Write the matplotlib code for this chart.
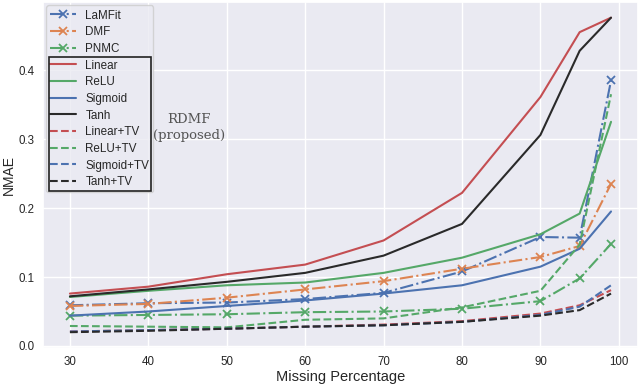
import numpy as np
import matplotlib
matplotlib.use('Agg')
import matplotlib.pyplot as plt
import seaborn as sns
from matplotlib.patches import Rectangle

sns.set_theme(style='darkgrid')
plt.rcParams['font.family'] = ['Liberation Sans', 'DejaVu Sans']

missing = [30, 40, 50, 60, 70, 80, 90, 95, 99]

# baselines
lamfit = [0.059, 0.062, 0.063, 0.068, 0.077, 0.108, 0.158, 0.157, 0.385]
dmf = [0.058, 0.061, 0.070, 0.082, 0.094, 0.112, 0.129, 0.145, 0.235]
pnmc = [0.044, 0.045, 0.046, 0.049, 0.050, 0.054, 0.065, 0.098, 0.148]

# RDMF variants
linear = [0.076, 0.086, 0.104, 0.118, 0.153, 0.222, 0.361, 0.455, 0.476]
relu = [0.071, 0.080, 0.088, 0.092, 0.106, 0.128, 0.162, 0.192, 0.325]
sigmoid = [0.044, 0.050, 0.058, 0.066, 0.076, 0.088, 0.115, 0.141, 0.195]
tanh = [0.072, 0.082, 0.093, 0.106, 0.131, 0.177, 0.306, 0.428, 0.476]
linear_tv = [0.021, 0.023, 0.025, 0.028, 0.031, 0.036, 0.047, 0.059, 0.081]
relu_tv = [0.029, 0.028, 0.027, 0.038, 0.040, 0.056, 0.080, 0.147, 0.365]
sigmoid_tv = [0.021, 0.023, 0.025, 0.028, 0.030, 0.035, 0.045, 0.057, 0.088]
tanh_tv = [0.020, 0.022, 0.025, 0.028, 0.030, 0.035, 0.044, 0.052, 0.076]

blue, orange, green, red = '#4C72B0', '#DD8452', '#55A868', '#C44E52'
black = '#2a2a2a'

fig = plt.figure(figsize=(6.4, 3.87), dpi=100)
ax = fig.add_axes([0.067, 0.101, 0.93, 0.894])

mk = dict(marker='x', markersize=5.5, markeredgewidth=1.3, linestyle='-.', linewidth=1.5)
ax.plot(missing, lamfit, color=blue, label='LaMFit', **mk)
ax.plot(missing, dmf, color=orange, label='DMF', **mk)
ax.plot(missing, pnmc, color=green, label='PNMC', **mk)

ax.plot(missing, linear, color=red, lw=1.5, label='Linear')
ax.plot(missing, relu, color=green, lw=1.5, label='ReLU')
ax.plot(missing, sigmoid, color=blue, lw=1.5, label='Sigmoid')
ax.plot(missing, tanh, color=black, lw=1.5, label='Tanh')
ax.plot(missing, linear_tv, color=red, lw=1.5, ls='--', label='Linear+TV')
ax.plot(missing, relu_tv, color=green, lw=1.5, ls='--', label='ReLU+TV')
ax.plot(missing, sigmoid_tv, color=blue, lw=1.5, ls='--', label='Sigmoid+TV')
ax.plot(missing, tanh_tv, color=black, lw=1.5, ls='--', label='Tanh+TV')

ax.set_xticks([30, 40, 50, 60, 70, 80, 90, 100])
ax.set_yticks([0.0, 0.1, 0.2, 0.3, 0.4])
ax.tick_params(labelsize=8.3, length=0, pad=6)
ax.set_xlabel('Missing Percentage', fontsize=10.5, labelpad=1)
ax.set_ylabel('NMAE', fontsize=10, labelpad=2)

leg = ax.legend(loc='upper left', fontsize=8.4, labelspacing=0.4,
                borderaxespad=0.3, handlelength=2.2, borderpad=0.35)

# black box around the proposed RDMF entries
fig.canvas.draw()
r = fig.canvas.get_renderer()
frame = leg.get_frame().get_window_extent(r)
t_top = leg.get_texts()[3].get_window_extent(r)
t_bot = leg.get_texts()[-1].get_window_extent(r)
inv = fig.transFigure.inverted()
x0, y0 = inv.transform((frame.x0 + 3, t_bot.y0 - 3))
x1, y1 = inv.transform((frame.x1 - 2, t_top.y1 + 3))
fig.patches.append(Rectangle((x0, y0), x1 - x0, y1 - y0, transform=fig.transFigure,
                             fill=False, edgecolor='#222222', linewidth=1.2, zorder=10))
xt, yt = inv.transform((frame.x1 + 36, (t_top.y1 + t_bot.y0) / 2 - 4))
fig.text(xt, yt, 'RDMF\n(proposed)', ha='center', va='center', fontsize=9.5,
         family='DejaVu Serif', color='#555555', linespacing=1.3)

fig.savefig('out.png', dpi=100)
